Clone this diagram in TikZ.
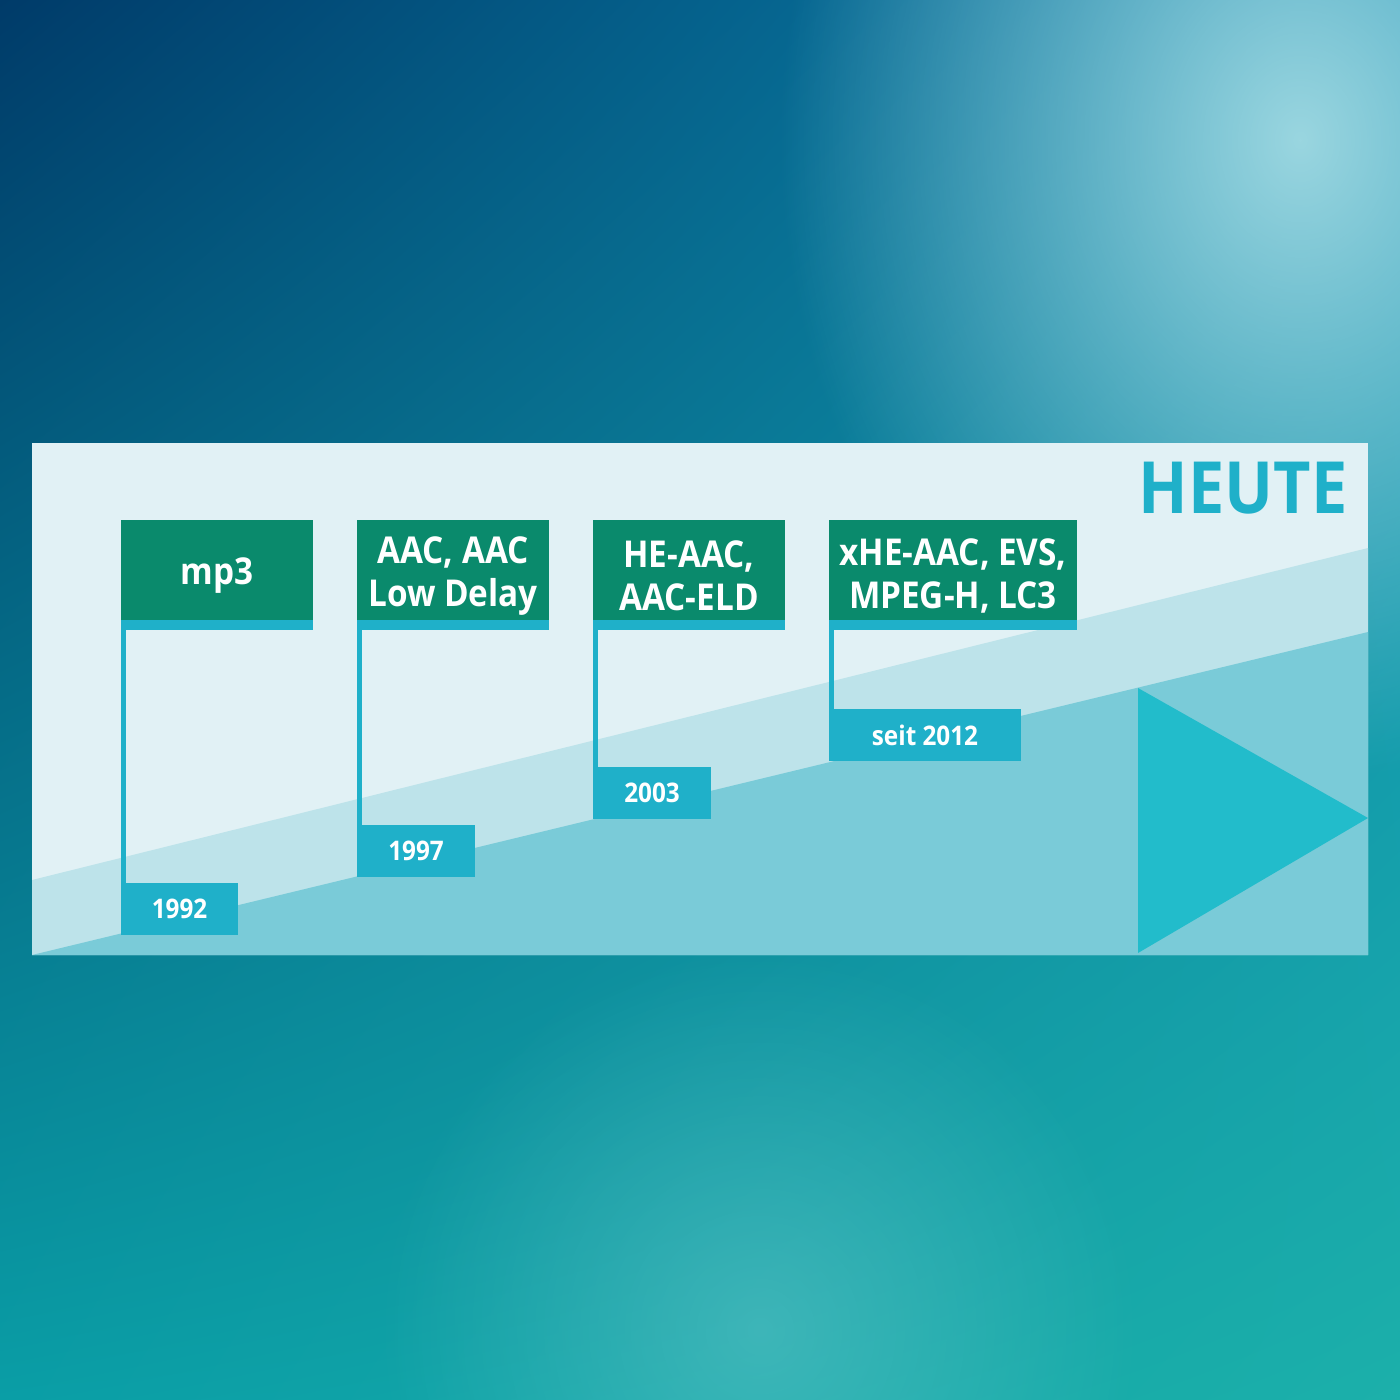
\documentclass[tikz,border=0pt]{standalone}
\usepackage{fontspec}
\setmainfont{Open Sans}[FakeStretch=0.9]
\usetikzlibrary{fadings,shadings}

\definecolor{bgA}{HTML}{003B69}
\definecolor{bgB}{HTML}{0A86AE}
\definecolor{bgC}{HTML}{0A9EA6}
\definecolor{bgD}{HTML}{1CB0AA}
\definecolor{glow}{HTML}{9AD6E0}
\definecolor{panel}{HTML}{E1F1F5}
\definecolor{midband}{HTML}{BDE3EA}
\definecolor{lowband}{HTML}{7ACBD8}
\definecolor{arrowcyan}{HTML}{22BCCB}
\definecolor{fgreen}{HTML}{0A8A6C}
\definecolor{fcyan}{HTML}{1FB0C9}

\tikzfading[name=glowfade, inner color=transparent!0, outer color=transparent!100]

\tikzset{
    flagbox/.style={fill=fgreen, inner sep=0pt, outer sep=0pt, minimum height=100pt, anchor=north west},
    flagtext/.style={text=white, font=\bfseries\fontsize{37}{43}\selectfont, align=center, inner sep=0pt},
    datebox/.style={fill=fcyan, text=white, font=\bfseries\fontsize{27}{30}\selectfont,
        inner sep=0pt, outer sep=0pt, minimum height=52pt, anchor=north west},
    pole/.style={fcyan, line width=5pt},
}

\begin{document}
\begin{tikzpicture}[x=1pt, y=-1pt]
        \useasboundingbox (0,0) rectangle (1400,1400);

        % Background
        \shade[upper left=bgA, upper right=bgB, lower left=bgC, lower right=bgD] (0,0) rectangle (1400,1400);
        \fill[glow, path fading=glowfade] (1300,140) ellipse (520 and 640);
        \fill[glow!60!bgD, path fading=glowfade, opacity=0.5] (760,1330) circle (380);

        % Panel with bands
        \fill[panel] (32,443) rectangle (1368,955);
        \fill[midband] (32,880) -- (1368,548) -- (1368,955) -- (32,955) -- cycle;
        \fill[lowband] (32,955) -- (1368,632) -- (1368,955) -- cycle;
        \fill[arrowcyan] (1138,688) -- (1368,818) -- (1138,953) -- cycle;

        \node[anchor=base east, fcyan, font=\bfseries\fontsize{72}{72}\selectfont] (heute) at (1351,513) {HEUTE};

        % Flags
        \foreach \n/\x/\w/\y/\dw/\txt/\yr in {1/121/192/883/117/{mp3}/{1992},
                2/357/192/825/118/{AAC, AAC\\Low Delay}/{1997},
                3/593/192/767/118/{HE-AAC,\\AAC-ELD}/{2003},
                4/829/248/709/192/{xHE-AAC, EVS,\\MPEG-H, LC3}/{seit 2012}} {
            \node[flagbox, minimum width=\w pt] (t\n) at (\x,520) {};
            \node[flagtext] (l\n) at ([yshift=-6pt]t\n.center) {\txt};
            \node[datebox, minimum width=\dw pt] (d\n) at (\x,\y) {\yr};
            \fill[fcyan] (t\n.south west) rectangle ([yshift=-10pt]t\n.south east);
            \draw[pole] ([xshift=2.5pt,yshift=-10pt]t\n.south west) -- ([xshift=2.5pt]d\n.north west);
        }
    \end{tikzpicture}
\end{document}
